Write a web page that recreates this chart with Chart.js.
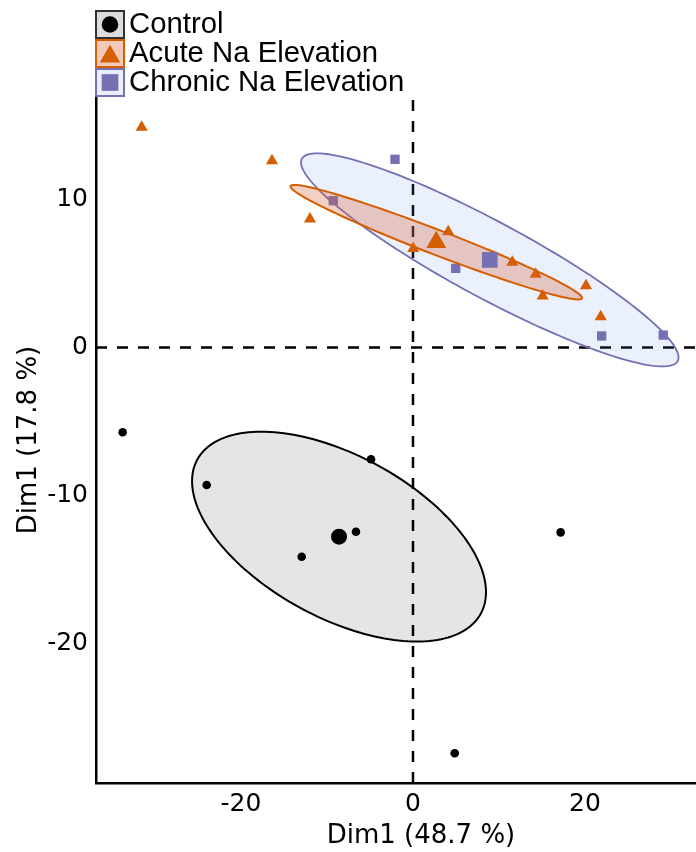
<!DOCTYPE html>
<html>
<head>
<meta charset="utf-8">
<title>PCA - individuals</title>
<script src="https://cdn.jsdelivr.net/npm/chart.js"></script>
<style>
  html, body { margin: 0; padding: 0; background: #fff; overflow: hidden; }
  #wrap { width: 696px; height: 852px; }
</style>
</head>
<body>
<div id="wrap"><canvas id="pca" width="696" height="852"></canvas></div>
<script>
// --- Values ---

const groupNames = ['Control', 'Acute Na Elevation', 'Chronic Na Elevation'];

const controlX = [-33.76, -23.99, -4.88, -6.63, -12.94, 17.17, 4.85];
const controlY = [-5.73, -9.29, -7.55, -12.45, -14.14, -12.49, -27.42];

const acuteX = [-31.55, -16.40, -11.98, 0.03, 4.10, 11.55, 14.27, 15.08, 20.12, 21.83];
const acuteY = [14.88, 12.62, 8.68, 6.70, 7.82, 5.76, 4.95, 3.48, 4.18, 2.08];

const chronicX = [-2.09, -9.27, 4.97, 21.94, 29.10];
const chronicY = [12.72, 9.92, 5.35, 0.78, 0.84];

// group means (the big markers)
const centroidX = [-8.60, 2.71, 8.93];
const centroidY = [-12.78, 7.12, 5.92];

// confidence ellipses: centre, half extent on each axis, correlation
const ellipseCx = [-8.60, 2.71, 8.93];
const ellipseCy = [-12.78, 7.12, 5.92];
const ellipseSx = [17.09, 16.95, 21.95];
const ellipseSy = [7.09, 3.87, 7.20];
const ellipseR = [-0.529, -0.973, -0.915];

const xTicks = [-20, 0, 20];
const yTicks = [-20, -10, 0, 10];
const xRange = [-36.86, 32.91];
const yRange = [-29.43, 16.93];

const xTitle = 'Dim1 (48.7 %)';
const yTitle = 'Dim1 (17.8 %)';

// --- Styling ---

const COLORS = ['#000000', '#D55E00', '#7570B3'];
const ELLIPSE_FILL = ['rgba(0,0,0,0.10)', 'rgba(220,100,60,0.30)', 'rgba(90,140,235,0.13)'];
const ELLIPSE_WIDTH = [2, 2, 1.8];
// which ellipses sit under the individual points, which over them
const ELLIPSE_UNDER = [0, 2];
const ELLIPSE_OVER = [1];
const LEGEND_FILL = ['#dcdcdc', '#f3cab9', '#e9effc'];
const LEGEND_BORDER = ['#333333', '#D55E00', '#7570B3'];

const FONT = "'DejaVu Sans', sans-serif";
Chart.defaults.font.family = FONT;
Chart.defaults.color = '#000';

function toPoints(xs, ys) {
    return xs.map((x, i) => ({ x: x, y: ys[i] }));
}

// --- Ellipses ---

function drawEllipses(chart, list) {
    const { ctx, chartArea } = chart;
    const xs = chart.scales.x;
    const ys = chart.scales.y;
    ctx.save();
    ctx.beginPath();
    ctx.rect(chartArea.left, chartArea.top, chartArea.width, chartArea.height);
    ctx.clip();
    list.forEach(g => {
        const k = Math.sqrt(1 - ellipseR[g] * ellipseR[g]);
        ctx.beginPath();
        for (let s = 0; s <= 180; s++) {
            const t = (s / 180) * Math.PI * 2;
            const x = ellipseCx[g] + ellipseSx[g] * Math.cos(t);
            const y = ellipseCy[g] + ellipseSy[g] * (ellipseR[g] * Math.cos(t) + k * Math.sin(t));
            const px = xs.getPixelForValue(x);
            const py = ys.getPixelForValue(y);
            if (s === 0) ctx.moveTo(px, py); else ctx.lineTo(px, py);
        }
        ctx.closePath();
        ctx.fillStyle = ELLIPSE_FILL[g];
        ctx.fill();
        ctx.lineWidth = ELLIPSE_WIDTH[g];
        ctx.strokeStyle = COLORS[g];
        ctx.stroke();
    });
    ctx.restore();
}

const ellipsePlugin = {
    id: 'ellipses',
    beforeDatasetsDraw(chart) {
        chart.$under = false;
        chart.$over = false;
    },
    beforeDatasetDraw(chart, args) {
        const kind = chart.data.datasets[args.index].kind;
        if (kind === 'points' && !chart.$under) {
            chart.$under = true;
            drawEllipses(chart, ELLIPSE_UNDER);
        }
        if (kind === 'centroid' && !chart.$over) {
            chart.$over = true;
            drawEllipses(chart, ELLIPSE_OVER);
        }
    }
};

// --- Legend boxes and x axis title ---

function drawMarker(ctx, style, x, y, r) {
    ctx.beginPath();
    if (style === 'circle') {
        ctx.arc(x, y, r, 0, Math.PI * 2);
    } else if (style === 'triangle') {
        let rad = 0;
        ctx.moveTo(x + Math.sin(rad) * r, y - Math.cos(rad) * r);
        rad += Math.PI * 2 / 3;
        ctx.lineTo(x + Math.sin(rad) * r, y - Math.cos(rad) * r);
        rad += Math.PI * 2 / 3;
        ctx.lineTo(x + Math.sin(rad) * r, y - Math.cos(rad) * r);
        ctx.closePath();
    } else {
        const h = r * Math.SQRT1_2;
        ctx.rect(x - h, y - h, 2 * h, 2 * h);
    }
    ctx.fill();
}

const annotationPlugin = {
    id: 'pcaLegend',
    afterDraw(chart) {
        const ctx = chart.ctx;
        const styles = ['circle', 'triangle', 'rect'];
        const sizes = [8.3, 11.8, 11.8];
        const tops = [11, 40, 69];
        ctx.save();
        groupNames.forEach((name, g) => {
            const bx = 96, by = tops[g], bw = 28, bh = 27;
            ctx.fillStyle = LEGEND_FILL[g];
            ctx.fillRect(bx, by, bw, bh);
            ctx.lineWidth = 2;
            ctx.strokeStyle = LEGEND_BORDER[g];
            ctx.strokeRect(bx, by, bw, bh);
            ctx.fillStyle = COLORS[g];
            const cy = styles[g] === 'triangle' ? by + bh / 2 + 3 : by + bh / 2;
            drawMarker(ctx, styles[g], bx + bw / 2, cy, sizes[g]);

            ctx.fillStyle = '#000';
            ctx.font = "29.3px 'Liberation Sans', Arial, sans-serif";
            ctx.textAlign = 'left';
            ctx.textBaseline = 'alphabetic';
            ctx.fillText(name, 129, by + 22);
        });

        ctx.font = '26px ' + FONT;
        ctx.textAlign = 'center';
        ctx.textBaseline = 'middle';
        ctx.fillText(xTitle, 421, 836);
        ctx.restore();
    }
};

// --- Chart ---

const datasets = [
    { kind: 'centroid', label: groupNames[0], data: [{ x: centroidX[0], y: centroidY[0] }],
      pointStyle: 'circle', pointRadius: 8, backgroundColor: COLORS[0], borderWidth: 0 },
    { kind: 'centroid', label: groupNames[1], data: [{ x: centroidX[1], y: centroidY[1] }],
      pointStyle: 'triangle', pointRadius: 11.5, backgroundColor: COLORS[1], borderWidth: 0 },
    { kind: 'centroid', label: groupNames[2], data: [{ x: centroidX[2], y: centroidY[2] }],
      pointStyle: 'rect', pointRadius: 11.1, backgroundColor: COLORS[2], borderWidth: 0 },
    { kind: 'points', label: groupNames[0], data: toPoints(controlX, controlY),
      pointStyle: 'circle', pointRadius: 4.3, backgroundColor: COLORS[0], borderWidth: 0 },
    { kind: 'points', label: groupNames[1], data: toPoints(acuteX, acuteY),
      pointStyle: 'triangle', pointRadius: 7, backgroundColor: COLORS[1], borderWidth: 0 },
    { kind: 'points', label: groupNames[2], data: toPoints(chronicX, chronicY),
      pointStyle: 'rect', pointRadius: 6.6, backgroundColor: COLORS[2], borderWidth: 0 },
    { type: 'line', label: 'x = 0', data: [{ x: 0, y: yRange[0] }, { x: 0, y: yRange[1] }],
      borderColor: '#000', borderWidth: 2.5, borderDash: [11, 10], pointRadius: 0, fill: false },
    { type: 'line', label: 'y = 0', data: [{ x: xRange[0], y: 0 }, { x: xRange[1], y: 0 }],
      borderColor: '#000', borderWidth: 2.5, borderDash: [11, 10], pointRadius: 0, fill: false }
];

new Chart(document.getElementById('pca'), {
    type: 'scatter',
    data: { datasets: datasets },
    options: {
        responsive: false,
        animation: false,
        events: [],
        layout: { autoPadding: false, padding: { top: 97, right: 0, left: 0, bottom: 0 } },
        plugins: {
            legend: { display: false },
            tooltip: { enabled: false }
        },
        scales: {
            x: {
                type: 'linear',
                min: xRange[0],
                max: xRange[1],
                afterBuildTicks: s => { s.ticks = xTicks.map(v => ({ value: v })); },
                afterFit: s => { s.height = 69; s.paddingLeft = 0; s.paddingRight = 0; },
                grid: { display: false, drawTicks: false },
                border: { display: true, color: '#000', width: 2.5 },
                ticks: { font: { size: 25 }, color: '#000', padding: 6, maxRotation: 0 }
            },
            y: {
                type: 'linear',
                min: yRange[0],
                max: yRange[1],
                afterBuildTicks: s => { s.ticks = yTicks.map(v => ({ value: v })); },
                afterFit: s => { s.width = 96; s.paddingTop = 0; s.paddingBottom = 0; },
                grid: { display: false, drawTicks: false },
                border: { display: true, color: '#000', width: 2.5 },
                ticks: { font: { size: 25 }, color: '#000', padding: 8 },
                title: { display: true, text: yTitle, font: { size: 26 }, color: '#000',
                         padding: { top: 14, bottom: 0 } }
            }
        }
    },
    plugins: [ellipsePlugin, annotationPlugin]
});
</script>
</body>
</html>
